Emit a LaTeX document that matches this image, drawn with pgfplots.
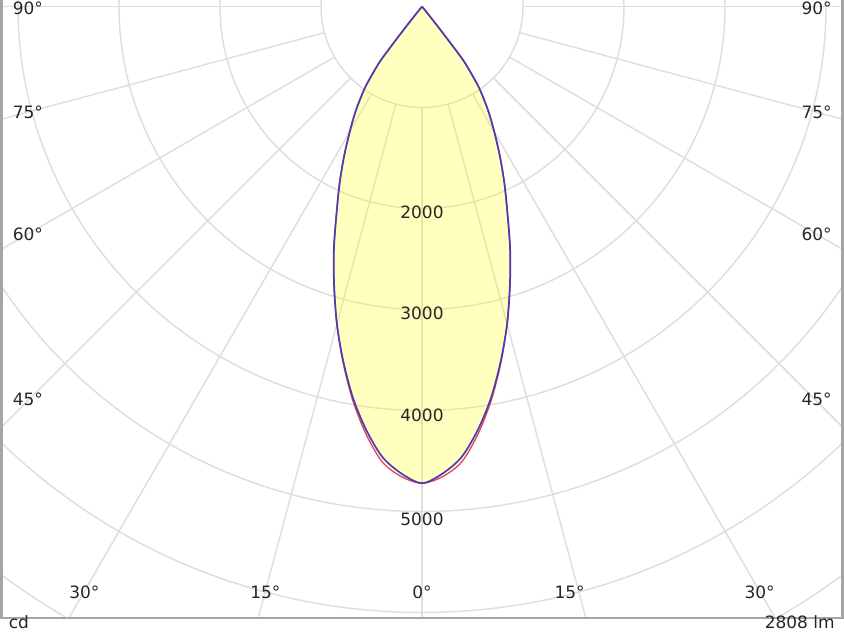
\documentclass[border=0pt]{standalone}
\usepackage{pgfplots}
\pgfplotsset{compat=1.18}
\usepackage{pgfplotstable}
\usepackage{fontspec}
\setmainfont{DejaVu Sans}

\definecolor{gridgray}{RGB}{222,222,222}
\definecolor{framegray}{RGB}{165,165,165}
\definecolor{beamfill}{RGB}{255,255,0}
\definecolor{cblue}{RGB}{80,60,175}
\definecolor{cred}{RGB}{225,70,80}

% luminous intensity (cd) against gamma angle (deg), 0 = straight down
\pgfplotstableread{
a I
-39.0 0
-38.6 170
-38.0 420
-37.5 665
-36.5 800
-35.0 990
-32.5 1215
-30.0 1430
-27.5 1670
-25.0 1930
-22.5 2210
-20.0 2550
-17.5 2895
-15.0 3255
-12.5 3600
-10.0 3935
-7.5 4230
-5.0 4480
-2.5 4630
0.0 4720
2.5 4630
5.0 4480
7.5 4230
10.0 3935
12.5 3600
15.0 3255
17.5 2895
20.0 2550
22.5 2210
25.0 1930
27.5 1670
30.0 1430
32.5 1215
35.0 990
36.5 800
37.5 665
38.0 420
38.6 170
39.0 0
}\planeA

\pgfplotstableread{
a I
-39.0 0
-38.6 170
-38.0 420
-37.5 665
-36.5 800
-35.0 990
-32.5 1215
-30.0 1430
-27.5 1670
-25.0 1930
-22.5 2210
-20.0 2550
-17.5 2895
-15.0 3255
-12.5 3610
-10.0 3955
-7.5 4265
-5.0 4525
-2.5 4660
0.0 4720
2.5 4660
5.0 4525
7.5 4265
10.0 3955
12.5 3610
15.0 3255
17.5 2895
20.0 2550
22.5 2210
25.0 1930
27.5 1670
30.0 1430
32.5 1215
35.0 990
36.5 800
37.5 665
38.0 420
38.6 170
39.0 0
}\planeB

\begin{document}
\begin{tikzpicture}
\useasboundingbox (0,0) rectangle (633pt,474.75pt);
\begin{axis}[
    at={(0,0)}, anchor=south west,
    scale only axis,
    width=633pt, height=474.75pt,
    xmin=-4178.2, xmax=4178.2,
    ymin=-6203.0, ymax=64.4,
    hide axis,
]
% polar grid, cut at the frame
\begin{scope}
\clip (axis cs:-4153,-6054) rectangle (axis cs:4153,200);
\pgfplotsinvokeforeach{1,...,8}{
    \draw[gridgray, line width=1.1pt] (axis cs:0,0) circle[radius={#1*1000}];
}
\pgfplotsinvokeforeach{-90,-75,...,90}{
    \draw[gridgray, line width=1.1pt]
        (axis cs:{1000*sin(#1)},{-1000*cos(#1)}) -- (axis cs:{9000*sin(#1)},{-9000*cos(#1)});
}
\end{scope}

% beam area, see-through so the grid shows
\addplot[fill=beamfill, fill opacity=0.25, draw=none, smooth, tension=0.5]
    table[x expr={\thisrow{I}*sin(\thisrow{a})}, y expr={-\thisrow{I}*cos(\thisrow{a})}] {\planeA};

% C90-C270 plane
\addplot[cred, line width=1pt, smooth, tension=0.5]
    table[x expr={\thisrow{I}*sin(\thisrow{a})}, y expr={-\thisrow{I}*cos(\thisrow{a})}] {\planeB};
% C0-C180 plane
\addplot[cblue, line width=1.3pt, smooth, tension=0.5]
    table[x expr={\thisrow{I}*sin(\thisrow{a})}, y expr={-\thisrow{I}*cos(\thisrow{a})}] {\planeA};
\end{axis}

% frame and texts, in pixels of the reference
\begin{scope}[x=0.75pt, y=-0.75pt, shift={(0pt,474.75pt)}]
\draw[framegray, line width=2pt] (1.5,-5) -- (1.5,618);
\draw[framegray, line width=2pt] (842.5,-5) -- (842.5,618);
\draw[framegray, line width=1.2pt] (0,618) -- (844,618);

\begin{scope}[every node/.style={inner sep=0pt, font=\fontsize{12.75}{15}\selectfont, text=black!85}]
\node[anchor=base west] at (12.5,15) {90°};
\node[anchor=base west] at (12.5,119) {75°};
\node[anchor=base west] at (12.5,241) {60°};
\node[anchor=base west] at (12.5,406) {45°};
\node[anchor=base east] at (832,15) {90°};
\node[anchor=base east] at (832,119) {75°};
\node[anchor=base east] at (832,241) {60°};
\node[anchor=base east] at (832,406) {45°};

\node[anchor=base] at (422,219) {2000};
\node[anchor=base] at (422,320) {3000};
\node[anchor=base] at (422,422) {4000};
\node[anchor=base] at (422,525) {5000};

\node[anchor=base west] at (69,599) {30°};
\node[anchor=base west] at (250,599) {15°};
\node[anchor=base] at (422,599) {0°};
\node[anchor=base east] at (585,599) {15°};
\node[anchor=base east] at (775,599) {30°};

\node[anchor=base west] at (8.5,628.5) {cd};
\node[anchor=base east] at (835,628.5) {2808 lm};
\end{scope}
\end{scope}
\end{tikzpicture}
\end{document}
